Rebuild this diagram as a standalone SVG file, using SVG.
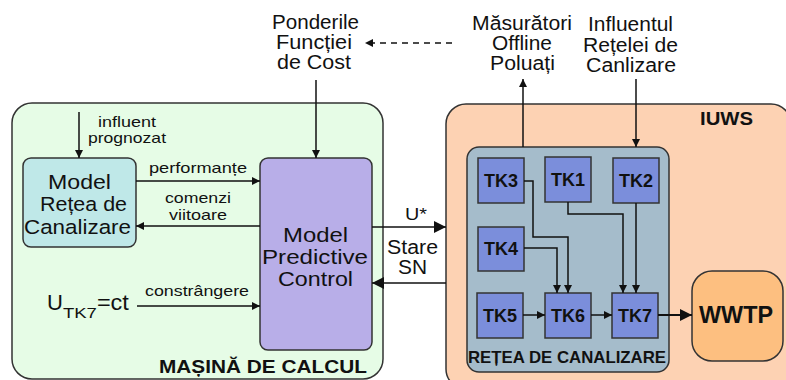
<svg xmlns="http://www.w3.org/2000/svg" width="786" height="380" viewBox="0 0 786 380">
  <style>
    text { font-family: "Liberation Sans", Arial, sans-serif; fill: #111; }
    .lbl { font-size: 20px; }
    .sm { font-size: 15px; }
    .box { font-size: 20.5px; }
    .tk { fill: #7b8edb; stroke: #333; stroke-width: 1.5; }
    .tkt { font-size: 18px; font-weight: bold; text-anchor: middle; }
    .ln { fill: none; stroke: #111; stroke-width: 1.5; }
    .thick { fill: none; stroke: #111; stroke-width: 2; }
    .dash { fill: none; stroke: #111; stroke-width: 1.5; stroke-dasharray: 6 5; }
  </style>
  <defs>
    <marker id="arr" viewBox="0 0 10 10" refX="10" refY="5" markerWidth="8" markerHeight="8" markerUnits="userSpaceOnUse" orient="auto">
      <path d="M0,0 L10,5 L0,10 z" fill="#111"/>
    </marker>
    <marker id="arrL" viewBox="0 0 10 10" refX="10" refY="5" markerWidth="12" markerHeight="12" markerUnits="userSpaceOnUse" orient="auto">
      <path d="M0,0 L10,5 L0,10 z" fill="#111"/>
    </marker>
  </defs>

  <!-- computing machine container -->
  <g id="masina">
    <rect x="12" y="103" width="371" height="276" rx="20" fill="#e6fce6" stroke="#333" stroke-width="1.5"/>
    <text x="159" y="373" font-size="18" font-weight="bold" textLength="208" lengthAdjust="spacingAndGlyphs">MAȘINĂ DE CALCUL</text>
  </g>

  <!-- IUWS container -->
  <g id="iuws">
    <rect x="446" y="104" width="345" height="285" rx="20" fill="#fdd2b3" stroke="#333" stroke-width="1.5"/>
    <text x="700" y="125" font-size="18" font-weight="bold" textLength="53" lengthAdjust="spacingAndGlyphs">IUWS</text>
  </g>

  <!-- sewer network container -->
  <g id="retea">
    <rect x="467" y="147" width="202" height="225" rx="12" fill="#a5bccb" stroke="#333" stroke-width="1.5"/>
    <text x="468" y="363" font-size="16.5" font-weight="bold" textLength="198" lengthAdjust="spacingAndGlyphs">REȚEA DE CANALIZARE</text>
  </g>

  <g id="model-retea">
    <rect x="23" y="158" width="113" height="89" rx="8" fill="#bfe8e8" stroke="#333" stroke-width="1.5"/>
    <text class="box" x="48" y="189" textLength="63" lengthAdjust="spacingAndGlyphs">Model</text>
    <text class="box" x="40" y="211" textLength="87" lengthAdjust="spacingAndGlyphs">Rețea de</text>
    <text class="box" x="24" y="234" textLength="107" lengthAdjust="spacingAndGlyphs">Canalizare</text>
  </g>

  <g id="mpc">
    <rect x="260" y="158" width="112" height="192" rx="8" fill="#b8aee8" stroke="#333" stroke-width="1.5"/>
    <text x="283" y="242" font-size="21" textLength="65" lengthAdjust="spacingAndGlyphs">Model</text>
    <text x="262" y="264" font-size="21" textLength="106" lengthAdjust="spacingAndGlyphs">Predictive</text>
    <text x="278" y="286" font-size="21" textLength="75" lengthAdjust="spacingAndGlyphs">Control</text>
  </g>

  <g id="tk3"><rect class="tk" x="478" y="158" width="46" height="45"/><text class="tkt" x="501" y="187">TK3</text></g>
  <g id="tk1"><rect class="tk" x="545" y="157" width="46" height="45"/><text class="tkt" x="568" y="186">TK1</text></g>
  <g id="tk2"><rect class="tk" x="613" y="158" width="46" height="45"/><text class="tkt" x="636" y="187">TK2</text></g>
  <g id="tk4"><rect class="tk" x="478" y="227" width="46" height="44"/><text class="tkt" x="501" y="255">TK4</text></g>
  <g id="tk5"><rect class="tk" x="477" y="293" width="46" height="45"/><text class="tkt" x="500" y="322">TK5</text></g>
  <g id="tk6"><rect class="tk" x="545" y="293" width="46" height="45"/><text class="tkt" x="568" y="322">TK6</text></g>
  <g id="tk7"><rect class="tk" x="612" y="293" width="46" height="45"/><text class="tkt" x="635" y="322">TK7</text></g>

  <g id="wwtp">
    <rect x="692" y="271" width="91" height="90" rx="20" fill="#fdbf80" stroke="#333" stroke-width="1.5"/>
    <text x="699" y="323" font-size="23" font-weight="bold" textLength="74" lengthAdjust="spacingAndGlyphs">WWTP</text>
  </g>

  <!-- free labels -->
  <g id="ponderile">
    <text class="lbl" x="272" y="29" textLength="87" lengthAdjust="spacingAndGlyphs">Ponderile</text>
    <text class="lbl" x="276" y="49" textLength="76" lengthAdjust="spacingAndGlyphs">Funcției</text>
    <text class="lbl" x="277" y="69" textLength="74" lengthAdjust="spacingAndGlyphs">de Cost</text>
  </g>
  <g id="masuratori">
    <text class="lbl" x="472" y="30" textLength="100" lengthAdjust="spacingAndGlyphs">Măsurători</text>
    <text class="lbl" x="492" y="50" textLength="60" lengthAdjust="spacingAndGlyphs">Offline</text>
    <text class="lbl" x="490" y="70" textLength="65" lengthAdjust="spacingAndGlyphs">Poluați</text>
  </g>
  <g id="influentul">
    <text class="lbl" x="588" y="31" textLength="85" lengthAdjust="spacingAndGlyphs">Influentul</text>
    <text class="lbl" x="583" y="52" textLength="95" lengthAdjust="spacingAndGlyphs">Rețelei de</text>
    <text class="lbl" x="586" y="72" textLength="90" lengthAdjust="spacingAndGlyphs">Canlizare</text>
  </g>
  <g id="utk7">
    <text x="47" y="310" font-size="22">U<tspan font-size="14" dy="8" textLength="34" lengthAdjust="spacingAndGlyphs">TK7</tspan><tspan dy="-8" textLength="32" lengthAdjust="spacingAndGlyphs">=ct</tspan></text>
  </g>

  <!-- connectors -->
  <g id="connectors">
    <path class="dash" d="M452,43 H365" marker-end="url(#arr)"/>
    <path class="ln" d="M316,80 V158" marker-end="url(#arr)"/>
    <path class="ln" d="M523,147 V79" marker-end="url(#arr)"/>
    <path class="ln" d="M636,79 V147" marker-end="url(#arr)"/>

    <path class="ln" d="M79,112 V158" marker-end="url(#arr)"/>
    <text class="sm" x="98" y="127" textLength="58" lengthAdjust="spacingAndGlyphs">influent</text>
    <text class="sm" x="88" y="143" textLength="78" lengthAdjust="spacingAndGlyphs">prognozat</text>

    <path class="ln" d="M136,181 H260" marker-end="url(#arr)"/>
    <text class="sm" x="149" y="173" textLength="98" lengthAdjust="spacingAndGlyphs">performanțe</text>

    <path class="ln" d="M260,226 H136" marker-end="url(#arr)"/>
    <text class="sm" x="165" y="203" textLength="66" lengthAdjust="spacingAndGlyphs">comenzi</text>
    <text class="sm" x="169" y="220" textLength="58" lengthAdjust="spacingAndGlyphs">viitoare</text>

    <path class="ln" d="M137,306 H260" marker-end="url(#arr)"/>
    <text class="sm" x="145" y="296" textLength="104" lengthAdjust="spacingAndGlyphs">constrângere</text>

    <path class="ln" d="M372,227 H446" marker-end="url(#arrL)"/>
    <text x="405" y="220" font-size="17" textLength="22" lengthAdjust="spacingAndGlyphs">U*</text>
    <path class="ln" d="M446,283 H372" marker-end="url(#arrL)"/>
    <text x="387" y="254" font-size="19.5" textLength="51" lengthAdjust="spacingAndGlyphs">Stare</text>
    <text x="398" y="274" font-size="19.5" textLength="29" lengthAdjust="spacingAndGlyphs">SN</text>

    <path class="ln" d="M524,181 H533 V237 H568 V293" marker-end="url(#arr)"/>
    <path class="ln" d="M524,248 H557 V293" marker-end="url(#arr)"/>
    <path class="ln" d="M568,202 V214 H623 V293" marker-end="url(#arr)"/>
    <path class="ln" d="M636,203 V293" marker-end="url(#arr)"/>
    <path class="ln" d="M523,315 H545" marker-end="url(#arr)"/>
    <path class="ln" d="M591,315 H612" marker-end="url(#arr)"/>
    <path class="thick" d="M658,315 H692" marker-end="url(#arrL)"/>
  </g>
</svg>
